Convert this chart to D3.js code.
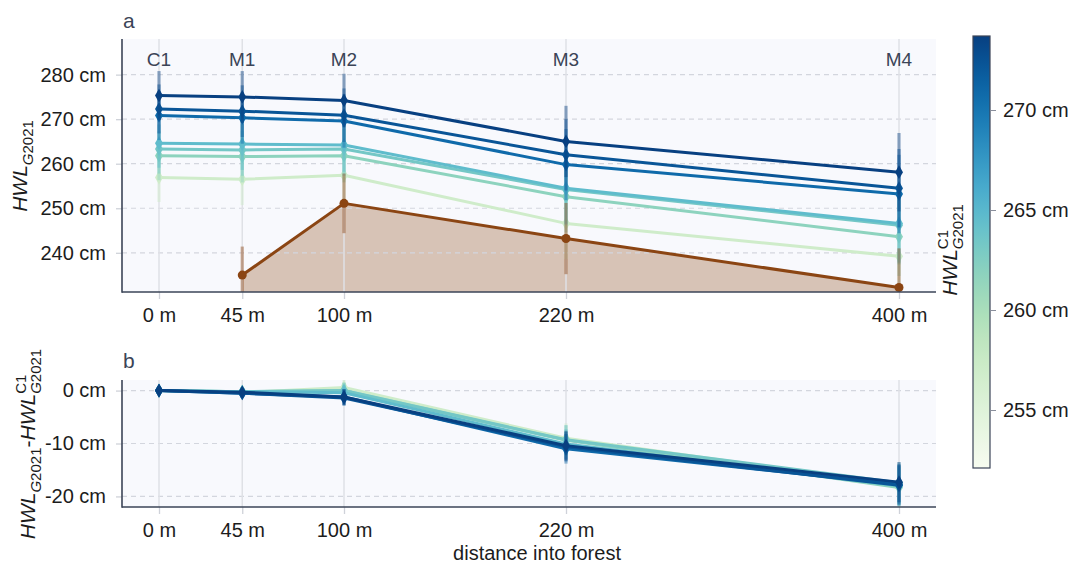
<!DOCTYPE html>
<html lang="en">
<head>
<meta charset="UTF-8">
<title>HWL along forest transect</title>
<style>
  body { margin: 0; background: #fff; }
  svg text { font-family: "Liberation Sans", Arial, sans-serif; }
</style>
</head>
<body>
<div class="container"></div>
<script src="https://cdn.jsdelivr.net/npm/d3@7/dist/d3.min.js"></script>
<script>
// ---- data ----
const distances = [0, 45, 100, 220, 400]
const siteNames = ["C1", "M1", "M2", "M3", "M4"]
const distanceLabels = ["0 m", "45 m", "100 m", "220 m", "400 m"]

// panel a: HWL_G2021 per gauge (cm), light -> dark
const hwlA = [256.9, 256.5, 257.4, 246.6, 239.2]
const hwlB = [261.8, 261.6, 261.8, 252.6, 243.6]
const hwlC = [263.3, 263.1, 263.3, 254.2, 246.2]
const hwlD = [264.6, 264.4, 264.2, 254.5, 246.6]
const hwlE = [270.8, 270.3, 269.6, 259.8, 253.2]
const hwlF = [272.3, 271.8, 270.9, 262.0, 254.5]
const hwlG = [275.3, 275.0, 274.2, 265.0, 258.1]
const hwlErr = [5.5, 5.8, 6.0, 8.0, 8.8]

// ground surface (cm), no value at C1
const ground = [null, 235.0, 251.1, 243.2, 232.2]
const groundErr = [null, 6.4, 6.7, 8.0, 8.8]

// panel b: HWL_G2021 - HWL_C1 (cm), same gauges
const diffA = [0, -0.4, 0.6, -9.0, -17.8]
const diffB = [0, -0.2, 0.0, -9.4, -18.3]
const diffC = [0, -0.2, 0.0, -9.3, -17.4]
const diffD = [0, -0.2, -0.4, -10.1, -18.0]
const diffE = [0, -0.5, -1.2, -11.0, -17.7]
const diffF = [0, -0.5, -1.4, -10.6, -17.9]
const diffG = [0, -0.3, -1.2, -10.4, -17.3]
const diffErr = [0, 0.8, 1.5, 2.8, 3.8]

const hwlSeries = [hwlA, hwlB, hwlC, hwlD, hwlE, hwlF, hwlG]
const diffSeries = [diffA, diffB, diffC, diffD, diffE, diffF, diffG]

const topTicks = [240, 250, 260, 270, 280]
const bottomTicks = [-20, -10, 0]
const colorTicks = [255, 260, 265, 270]

// ---- layout ----
const width = 1075
const height = 566
const axisColor = "#3b4457"
const gridColor = "#d3d6de"
const brown = "#8b4513"

const svg = d3.select(".container").append("svg")
    .attr("width", width)
    .attr("height", height)

const x = d3.scaleLinear().domain([-20, 420]).range([122, 936])
const yTop = d3.scaleLinear().domain([231.2, 288]).range([292, 39])
const yBot = d3.scaleLinear().domain([-22, 2]).range([507, 380])
const color = d3.scaleSequential(d3.interpolateGnBu).domain([252.1, 273.7]).clamp(true)
const cbar = d3.scaleLinear().domain([252.1, 273.7]).range([468, 36])

const diamond = d3.symbol().type(d3.symbolDiamond).size(55)

function panel(name, y, ticks) {
    const g = svg.append("g").attr("class", name)
    const [x0, x1] = x.range()
    const [y1, y0] = y.range()

    g.append("rect")
        .attr("x", x0).attr("y", y0)
        .attr("width", x1 - x0).attr("height", y1 - y0)
        .attr("fill", "#f8f9fd")

    const clipId = "clip-" + name
    g.append("clipPath").attr("id", clipId)
        .append("rect")
        .attr("x", x0).attr("y", y0)
        .attr("width", x1 - x0).attr("height", y1 - y0)

    const back = g.append("g").attr("clip-path", `url(#${clipId})`)
    const grid = g.append("g").attr("class", "grid")
    const marks = g.append("g").attr("clip-path", `url(#${clipId})`)

    // grid lines
    grid.selectAll(".hgrid").data(ticks).join("line")
        .attr("class", "hgrid")
        .attr("x1", x0).attr("x2", x1)
        .attr("y1", d => y(d)).attr("y2", d => y(d))
        .attr("stroke", gridColor)
        .attr("stroke-width", 1.2)
        .attr("stroke-dasharray", "5,4")
    grid.selectAll(".vgrid").data(distances).join("line")
        .attr("class", "vgrid")
        .attr("x1", d => x(d)).attr("x2", d => x(d))
        .attr("y1", y0).attr("y2", y1)
        .attr("stroke", "#dfe1e6")
        .attr("stroke-width", 1.5)

    // axes
    const left = d3.axisLeft(y).tickValues(ticks).tickFormat(d => d + " cm")
        .tickSize(6).tickPadding(10)
    const bottom = d3.axisBottom(x).tickValues(distances)
        .tickFormat((d, i) => distanceLabels[i]).tickSize(7).tickPadding(9)

    const la = g.append("g").attr("transform", `translate(${x0},0)`).call(left)
    const ba = g.append("g").attr("transform", `translate(0,${y1})`).call(bottom)
    for (const a of [la, ba]) {
        a.select(".domain").remove()
        a.selectAll(".tick line").attr("stroke", "#cfd2d9").attr("stroke-width", 1.3)
        a.selectAll(".tick text").attr("fill", "#1c1c1c").style("font-size", "20px")
    }
    g.append("line").attr("x1", x0).attr("x2", x0).attr("y1", y0).attr("y2", y1 + 0.75)
        .attr("stroke", axisColor).attr("stroke-width", 1.6)
    g.append("line").attr("x1", x0).attr("x2", x1).attr("y1", y1).attr("y2", y1)
        .attr("stroke", axisColor).attr("stroke-width", 1.6)

    return { g, back, marks }
}

function drawSeries(layer, y, values, errs, c) {
    const pts = distances.map((d, i) => ({ d, v: values[i], e: errs[i] }))
        .filter(p => p.v !== null)
    const s = layer.append("g")
    s.selectAll(".err").data(pts.filter(p => p.e > 0)).join("line")
        .attr("class", "err")
        .attr("x1", p => x(p.d)).attr("x2", p => x(p.d))
        .attr("y1", p => y(p.v - p.e)).attr("y2", p => y(p.v + p.e))
        .attr("stroke", c).attr("stroke-width", 3.2).attr("stroke-opacity", 0.45)
    s.append("path").datum(pts)
        .attr("d", d3.line().x(p => x(p.d)).y(p => y(p.v)))
        .attr("fill", "none").attr("stroke", c)
        .attr("stroke-width", 3)
        .attr("stroke-linejoin", "round")
    return { s, pts }
}

// ---- panel a ----
const pa = panel("top", yTop, topTicks)
const groundPts = distances.map((d, i) => ({ d, v: ground[i] })).filter(p => p.v !== null)
pa.back.append("path").datum(groundPts)
    .attr("d", d3.area().x(p => x(p.d)).y0(yTop(yTop.domain()[0])).y1(p => yTop(p.v)))
    .attr("fill", brown).attr("fill-opacity", 0.3)

hwlSeries.forEach(vals => {
    const c = color(vals[0])
    const { s, pts } = drawSeries(pa.marks, yTop, vals, hwlErr, c)
    s.selectAll(".mk").data(pts).join("path")
        .attr("class", "mk")
        .attr("transform", p => `translate(${x(p.d)},${yTop(p.v)})`)
        .attr("d", diamond).attr("fill", c)
})
{
    const { s, pts } = drawSeries(pa.marks, yTop, ground, groundErr, brown)
    s.selectAll(".mk").data(pts).join("circle")
        .attr("cx", p => x(p.d)).attr("cy", p => yTop(p.v)).attr("r", 4.5)
        .attr("fill", brown)
}

// site names above the panel
pa.g.selectAll(".site").data(siteNames).join("text")
    .attr("class", "site")
    .attr("x", (d, i) => x(distances[i])).attr("y", 66)
    .attr("text-anchor", "middle")
    .attr("fill", axisColor).style("font-size", "19px")
    .text(d => d)

// ---- panel b ----
const pb = panel("bottom", yBot, bottomTicks)
diffSeries.forEach((vals, k) => {
    const c = color(hwlSeries[k][0])
    const { s, pts } = drawSeries(pb.marks, yBot, vals, diffErr, c)
    s.selectAll(".mk").data(pts).join("path")
        .attr("class", "mk")
        .attr("transform", p => `translate(${x(p.d)},${yBot(p.v)})`)
        .attr("d", diamond).attr("fill", c)
})

// panel letters
svg.append("text").attr("x", 123).attr("y", 28).attr("fill", axisColor)
    .style("font-size", "21px").text("a")
svg.append("text").attr("x", 123).attr("y", 368).attr("fill", axisColor)
    .style("font-size", "21px").text("b")

// ---- axis titles ----
function hwlLabel(t, sup, sub) {
    t.append("tspan").style("font-style", "italic").text("HWL")
    let supNode = null
    if (sup) {
        supNode = t.append("tspan").attr("dy", -9).style("font-size", "15px").text(sup)
    }
    const subT = t.append("tspan").style("font-size", "15px")
    if (supNode) {
        const w = supNode.node().getComputedTextLength()
        subT.attr("dx", -w).attr("dy", 15)
    } else {
        subT.attr("dy", 6)
    }
    subT.append("tspan").style("font-style", "italic").text("G")
    subT.append("tspan").text(sub)
    return subT
}

{
    const t = svg.append("text")
        .attr("transform", "translate(27,166) rotate(-90)")
        .attr("text-anchor", "middle")
        .attr("fill", "#1c1c1c").style("font-size", "21px")
    hwlLabel(t, null, "2021")
}
{
    const t = svg.append("text")
        .attr("transform", "translate(35,444) rotate(-90)")
        .attr("text-anchor", "middle")
        .attr("fill", "#1c1c1c").style("font-size", "21px")
    hwlLabel(t, null, "2021")
    t.append("tspan").attr("dy", -6).text("-")
    hwlLabel(t, "C1", "2021")
}
{
    const t = svg.append("text")
        .attr("transform", "translate(957,250) rotate(-90)")
        .attr("text-anchor", "middle")
        .attr("fill", "#1c1c1c").style("font-size", "21px")
    hwlLabel(t, "C1", "2021")
}

svg.append("text")
    .attr("x", 537).attr("y", 560)
    .attr("text-anchor", "middle")
    .attr("fill", "#1c1c1c").style("font-size", "20px")
    .text("distance into forest")

// ---- colour bar ----
const grad = svg.append("defs").append("linearGradient")
    .attr("id", "cbar-grad")
    .attr("x1", 0).attr("x2", 0).attr("y1", 1).attr("y2", 0)
grad.selectAll("stop").data(d3.range(0, 1.001, 0.05)).join("stop")
    .attr("offset", t => t)
    .attr("stop-color", t => d3.interpolateGnBu(t))

const cbX = 973, cbW = 17
svg.append("rect")
    .attr("x", cbX).attr("y", cbar.range()[1])
    .attr("width", cbW).attr("height", cbar.range()[0] - cbar.range()[1])
    .attr("fill", "url(#cbar-grad)")
    .attr("stroke", axisColor).attr("stroke-width", 1.2)

const cAxis = d3.axisRight(cbar).tickValues(colorTicks)
    .tickFormat(d => d + " cm").tickSize(6).tickPadding(7)
const ca = svg.append("g").attr("transform", `translate(${cbX + cbW},0)`).call(cAxis)
ca.select(".domain").remove()
ca.selectAll(".tick line").attr("stroke", "#8a8f9c")
ca.selectAll(".tick text").attr("fill", "#1c1c1c").style("font-size", "20px")
</script>
</body>
</html>
